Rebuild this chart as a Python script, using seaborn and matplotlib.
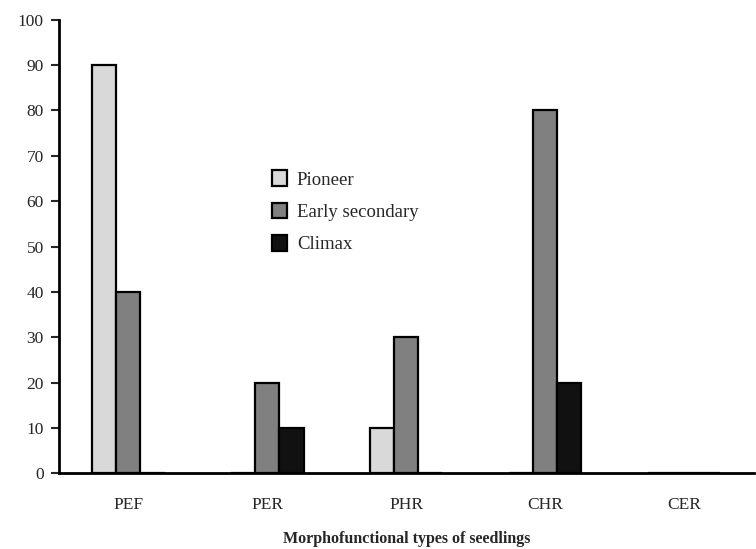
import pandas as pd
import seaborn as sns
import matplotlib.pyplot as plt

categories = ["PEF", "PER", "PHR", "CHR", "CER"]
series = ["Pioneer", "Early secondary", "Climax"]
pioneer = [90, 0, 10, 0, 0]
early_secondary = [40, 20, 30, 80, 0]
climax = [0, 10, 0, 20, 0]
colors = ["#d9d9d9", "#808080", "#111111"]

df = pd.DataFrame({
    "type": categories * 3,
    "group": [s for s in series for _ in categories],
    "value": pioneer + early_secondary + climax,
})

sns.set_style("white")
plt.rcParams["font.family"] = ["Liberation Serif", "DejaVu Serif"]

fig = plt.figure(figsize=(7.56, 5.49), dpi=100)
ax = fig.add_axes([0.078, 0.138, 0.919, 0.826])

sns.barplot(data=df, x="type", y="value", hue="group", hue_order=series,
            order=categories, palette=colors, width=0.52, gap=0,
            edgecolor="black", linewidth=1.6, ax=ax)

ax.set_xlim(-0.5, 4.5)
ax.set_ylim(0, 100)
ax.set_yticks(range(0, 101, 10))
ax.tick_params(axis="y", length=6, width=1.5, labelsize=12.5, direction="out",
               left=True, pad=5)
ax.tick_params(axis="x", length=0, labelsize=12.5, pad=17)
ax.set_ylabel("")
ax.set_xlabel("Morphofunctional types of seedlings", fontsize=11.5,
              fontweight="bold")
ax.xaxis.set_label_coords(0.5, -0.127)

sns.despine(ax=ax)
for side in ["left", "bottom"]:
    ax.spines[side].set_linewidth(2)
    ax.spines[side].set_color("black")

ax.legend(loc="upper left", bbox_to_anchor=(0.283, 0.705), frameon=False,
          fontsize=13.5, handlelength=0.8, handleheight=0.9, labelspacing=0.75,
          handletextpad=0.5)

fig.savefig("out.png", dpi=100)
